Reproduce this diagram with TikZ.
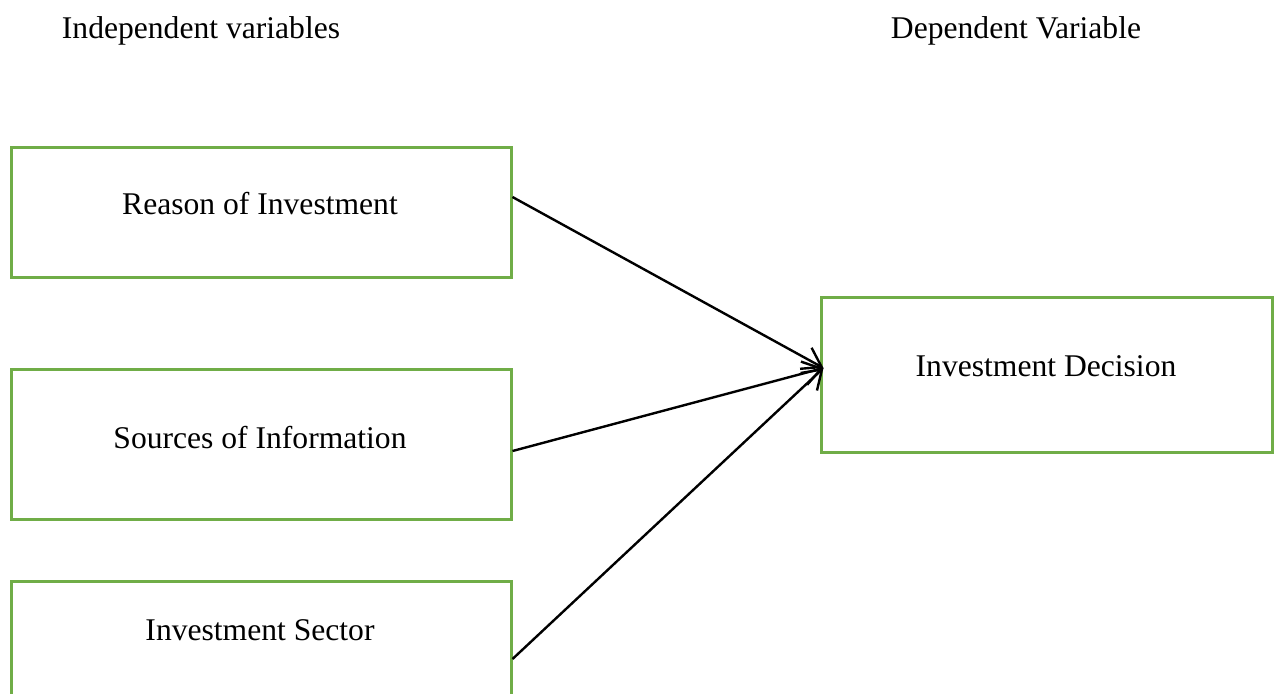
\documentclass[tikz,border=0pt]{standalone}
\usepackage{fontspec}
\setmainfont{Liberation Serif}
\usetikzlibrary{arrows.meta,calc}
\definecolor{boxgreen}{RGB}{112,173,71}
\tikzset{
  varbox/.style={draw=boxgreen, line width=1.5pt, rectangle, inner sep=0pt,
                 minimum width=250pt, minimum height=65pt},
  boxtext/.style={anchor=base, inner sep=0pt, font=\fontsize{15.8}{19}\selectfont},
  link/.style={draw=black, line width=1.2pt,
               -{Straight Barb[length=9pt,width=12pt,line width=1.2pt]}}
}
\begin{document}
\begin{tikzpicture}[x=0.5pt,y=-0.5pt]
\useasboundingbox (0,0) rectangle (1280,693);
% column headings
\node[boxtext] (hind) at (201,38) {Independent variables};
\node[boxtext] (hdep) at (1016,38) {Dependent Variable};
% independent variable boxes
\node[varbox] (r1) at (261,212) {};
\node[varbox, minimum height=75pt] (r2) at (261,444.5) {};
\node[varbox] (r3) at (261,646) {};
\node[boxtext] (t1) at (260,214.5) {Reason of Investment};
\node[boxtext] (t2) at (260,448) {Sources of Information};
\node[boxtext] (t3) at (260,640) {Investment Sector};
% dependent variable box
\node[varbox, minimum width=225.5pt, minimum height=77.5pt] (dec) at (1046.5,374.5) {};
\node[boxtext] (t4) at (1046,376.5) {Investment Decision};
% connectors
\coordinate (s1) at ($(r1.east)+(0,-15)$);
\coordinate (s2) at ($(r2.east)+(0,6.5)$);
\coordinate (s3) at ($(r3.east)+(0,13)$);
\coordinate (tip) at ($(dec.west)+(4,-6.5)$);
\draw[link] (s1) -- (tip);
\draw[link] (s2) -- (tip);
\draw[link] (s3) -- (tip);
\end{tikzpicture}
\end{document}
